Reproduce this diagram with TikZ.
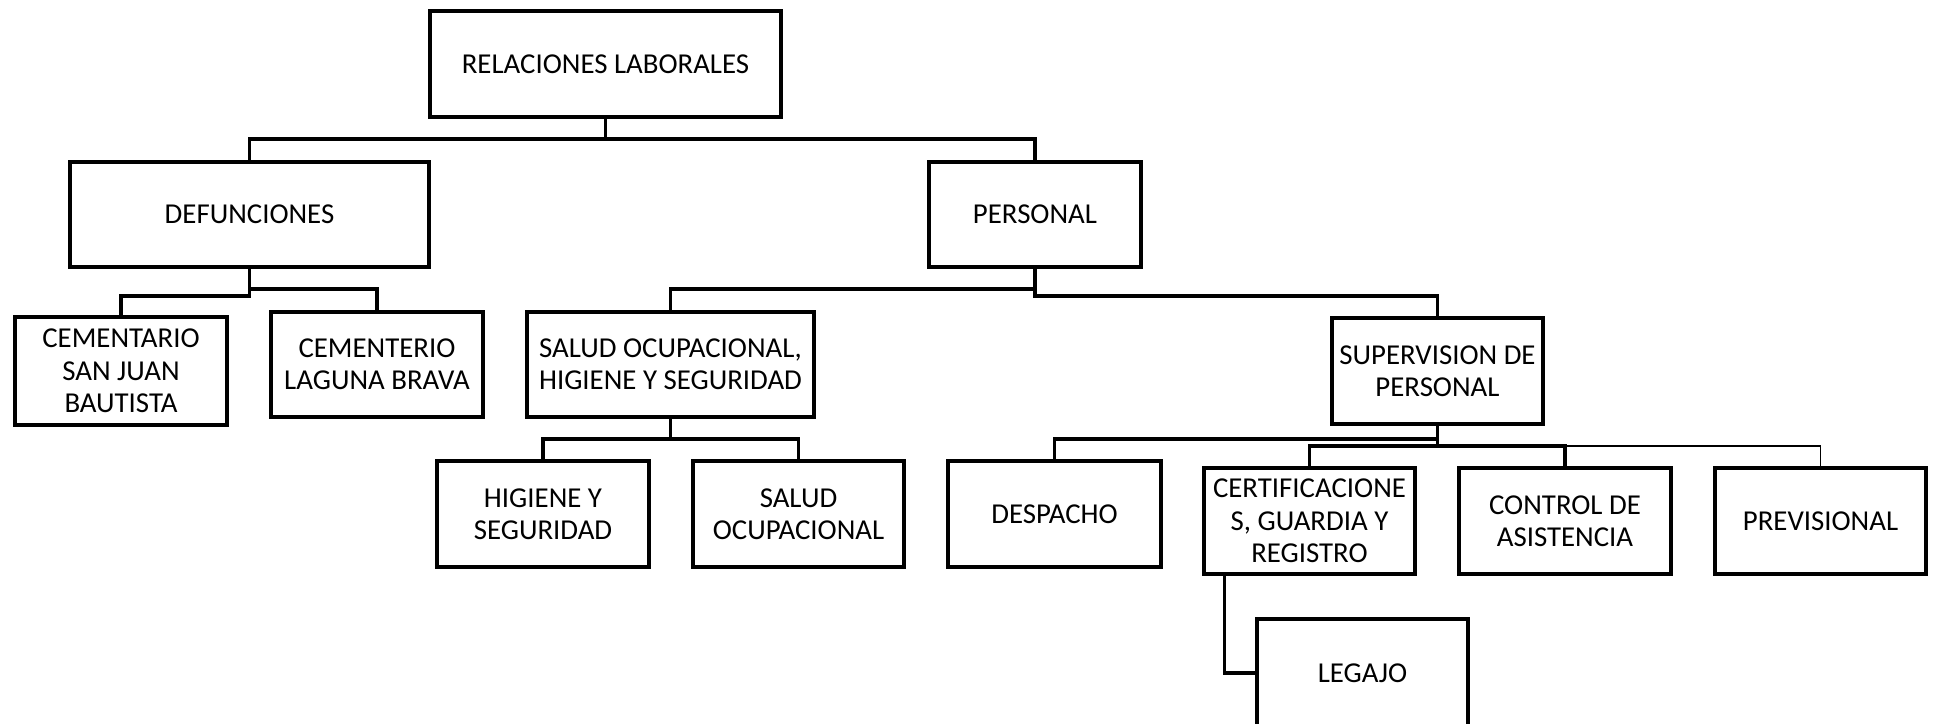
\documentclass[tikz,border=0pt]{standalone}
\usepackage{fontspec}
\setmainfont{Carlito}
\begin{document}
\begin{tikzpicture}[x=0.01cm,y=-0.01cm,
  bx/.style={draw, line width=1pt, align=center, inner sep=0pt, font=\fontsize{8.2}{9.2}\selectfont},
  ln/.style={line width=0.95pt},
  thinln/.style={line width=0.35pt}]
\useasboundingbox (0,0) rectangle (1935,723);
% boxes
\node[bx, minimum width=3.51cm, minimum height=1.06cm] (rel) at (605.5,64) {RELACIONES LABORALES};
\node[bx, minimum width=3.59cm, minimum height=1.05cm] (def) at (249.5,214.5) {DEFUNCIONES};
\node[bx, minimum width=2.12cm, minimum height=1.05cm] (per) at (1035,214.5) {PERSONAL};
\node[bx, minimum width=2.12cm, minimum height=1.08cm] (csj) at (121,371) {CEMENTARIO\\SAN JUAN\\BAUTISTA};
\node[bx, minimum width=2.12cm, minimum height=1.05cm] (clb) at (377,364.5) {CEMENTERIO\\LAGUNA BRAVA};
\node[bx, minimum width=2.87cm, minimum height=1.05cm] (sal) at (670.5,364.5) {SALUD OCUPACIONAL,\\HIGIENE Y SEGURIDAD};
\node[bx, minimum width=2.11cm, minimum height=1.06cm] (sup) at (1437.5,371) {SUPERVISION DE\\PERSONAL};
\node[bx, minimum width=2.12cm, minimum height=1.06cm] (hig) at (543,514) {HIGIENE Y\\SEGURIDAD};
\node[bx, minimum width=2.11cm, minimum height=1.06cm] (soc) at (798.5,514) {SALUD\\OCUPACIONAL};
\node[bx, minimum width=2.13cm, minimum height=1.06cm] (des) at (1054.5,514) {DESPACHO};
\node[bx, minimum width=2.11cm, minimum height=1.06cm] (cert) at (1309.5,521) {CERTIFICACIONE\\S, GUARDIA Y\\REGISTRO};
\node[bx, minimum width=2.12cm, minimum height=1.06cm] (ctrl) at (1565,521) {CONTROL DE\\ASISTENCIA};
\node[bx, minimum width=2.11cm, minimum height=1.06cm] (prev) at (1820.5,521) {PREVISIONAL};
\node[bx, minimum width=2.11cm, minimum height=1.08cm] (leg) at (1362.5,673) {LEGAJO};
% connectors
\draw[ln] (rel.south) -- (rel.south |- 0,139) -| (def.north);
\draw[ln] (rel.south) -- (rel.south |- 0,139) -| (per.north);
\draw[ln] (def.south) -- (def.south |- 0,289) -| (clb.north);
\draw[ln] (def.south) -- (def.south |- 0,296) -| (csj.north);
\draw[ln] (per.south) -- (per.south |- 0,289) -| (sal.north);
\draw[ln] (per.south) -- (per.south |- 0,296) -| (sup.north);
\draw[ln] (sal.south) -- (sal.south |- 0,439) -| (hig.north);
\draw[ln] (sal.south) -- (sal.south |- 0,439) -| (soc.north);
\draw[ln] (sup.south) -- (sup.south |- 0,439) -| (des.north);
\draw[ln] (sup.south) -- (sup.south |- 0,446) -| (cert.north);
\draw[ln] (sup.south) -- (sup.south |- 0,446) -| (ctrl.north);
\draw[thinln] (ctrl.north |- 0,446) -| (prev.north);
\draw[ln] ([xshift=0.22cm]cert.south west) |- (leg.west);
\end{tikzpicture}
\end{document}
